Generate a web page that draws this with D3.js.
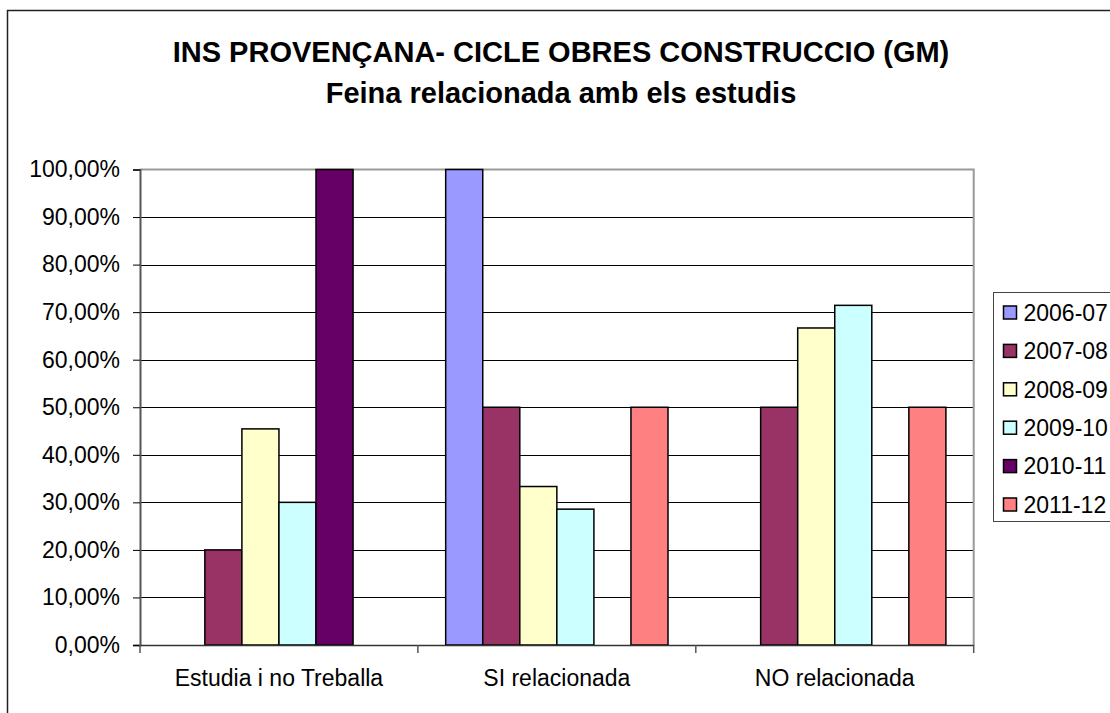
<!DOCTYPE html>
<html>
<head>
<meta charset="utf-8">
<script src="https://cdn.jsdelivr.net/npm/d3@7"></script>
<style>
  body { margin: 0; background: #fff; }
  text { font-family: "Liberation Sans", Arial, sans-serif; }
</style>
</head>
<body>
<div id="chart"></div>
<script>
// data (percent)
var categories = ["Estudia i no Treballa", "SI relacionada", "NO relacionada"];
var years = ["2006-07", "2007-08", "2008-09", "2009-10", "2010-11", "2011-12"];
var estudia = [0, 20, 45.45, 30, 100, 0];
var siRelacionada = [100, 50, 33.33, 28.57, 0, 50];
var noRelacionada = [0, 50, 66.67, 71.43, 0, 50];
var yTicks = [0, 10, 20, 30, 40, 50, 60, 70, 80, 90, 100];
var titleLines = ["INS PROVENÇANA- CICLE OBRES CONSTRUCCIO (GM)", "Feina relacionada amb els estudis"];

var colors = ["#9999FF", "#993366", "#FFFFCC", "#CCFFFF", "#660066", "#FF8080"];

var width = 1110,
    height = 713;

var plot = {left: 140, right: 973.7, top: 169.5, bottom: 645};

var rows = [estudia, siRelacionada, noRelacionada];
var data = categories.map(function(c, i) {
    return {cat: c, values: years.map(function(y, j) { return {year: y, value: rows[i][j]}; })};
});

var svg = d3.select("#chart").append("svg")
    .attr("width", width)
    .attr("height", height);

// outer frame (cut at right and bottom like the original)
svg.append("rect")
    .attr("x", 7.5).attr("y", 10.5)
    .attr("width", width).attr("height", height)
    .attr("fill", "none")
    .attr("stroke", "#222")
    .attr("stroke-width", 1.5);

// title
svg.selectAll(".title")
    .data(titleLines)
    .enter().append("text")
    .attr("class", "title")
    .attr("x", 561)
    .attr("y", function(d, i) { return 62 + i * 41; })
    .attr("text-anchor", "middle")
    .style("font-size", "29px")
    .style("font-weight", "bold")
    .text(function(d) { return d; });

var x0 = d3.scaleBand()
    .domain(categories)
    .range([plot.left, plot.right])
    .paddingInner(0.2)
    .paddingOuter(0.1);

var x1 = d3.scaleBand()
    .domain(years)
    .range([0, x0.bandwidth()]);

var y = d3.scaleLinear()
    .domain([0, 100])
    .range([plot.bottom, plot.top]);

var color = d3.scaleOrdinal().domain(years).range(colors);

// gridlines
svg.append("g")
    .selectAll("line")
    .data(yTicks.slice(1, -1))
    .enter().append("line")
    .attr("x1", plot.left).attr("x2", plot.right)
    .attr("y1", function(d) { return Math.round(y(d)) + 0.5; })
    .attr("y2", function(d) { return Math.round(y(d)) + 0.5; })
    .attr("stroke", "#000")
    .attr("stroke-width", 1);

// plot area border top / right
svg.append("path")
    .attr("d", "M" + plot.left + "," + plot.top + "H" + plot.right + "V" + plot.bottom)
    .attr("fill", "none")
    .attr("stroke", "#999").attr("stroke-width", 2);

// bars
var groups = svg.selectAll(".cat")
    .data(data)
    .enter().append("g")
    .attr("class", "cat")
    .attr("transform", function(d) { return "translate(" + x0(d.cat) + ",0)"; });

groups.selectAll("rect")
    .data(function(d) { return d.values.filter(function(v) { return v.value > 0; }); })
    .enter().append("rect")
    .attr("x", function(d) { return x1(d.year); })
    .attr("y", function(d) { return y(d.value); })
    .attr("width", x1.bandwidth())
    .attr("height", function(d) { return y(0) - y(d.value); })
    .attr("fill", function(d) { return color(d.year); })
    .attr("stroke", "#000")
    .attr("stroke-width", 1.5);

// y axis
var yAxis = svg.append("g")
    .attr("transform", "translate(" + plot.left + ",0)")
    .call(d3.axisLeft(y)
        .tickValues(yTicks)
        .tickSize(7)
        .tickPadding(13)
        .tickFormat(function(d) { return d3.format(".2f")(d).replace(".", ",") + "%"; }));
yAxis.select(".domain").attr("stroke", "#555").attr("stroke-width", 2);
yAxis.selectAll(".tick line").attr("stroke", "#000");
yAxis.selectAll("text")
    .style("font-size", "23px")
    .style("font-family", "'Liberation Sans', Arial, sans-serif")
    .attr("fill", "#000");

// x axis
var xAxis = svg.append("g")
    .attr("transform", "translate(0," + plot.bottom + ")")
    .call(d3.axisBottom(x0).tickSize(0).tickPadding(25));
xAxis.select(".domain").attr("stroke", "#333").attr("stroke-width", 1.5);
xAxis.selectAll("text")
    .style("font-size", "23px")
    .style("font-family", "'Liberation Sans', Arial, sans-serif")
    .attr("fill", "#000");

// category separators below the axis
var bounds = categories.map(function(c) { return x0(c) - x0.step() * 0.1; }).concat([plot.right]);
xAxis.selectAll(".sep")
    .data(bounds)
    .enter().append("line")
    .attr("class", "sep")
    .attr("x1", function(d) { return d; }).attr("x2", function(d) { return d; })
    .attr("y1", 0).attr("y2", 8)
    .attr("stroke", "#555").attr("stroke-width", 1.5);

// legend
var legend = svg.append("g").attr("transform", "translate(993.5,292.5)");
legend.append("rect")
    .attr("width", 130).attr("height", 229)
    .attr("fill", "#fff")
    .attr("stroke", "#444").attr("stroke-width", 1);

var item = legend.selectAll(".item")
    .data(years)
    .enter().append("g")
    .attr("class", "item")
    .attr("transform", function(d, i) { return "translate(0," + (20 + i * 38.4) + ")"; });

item.append("rect")
    .attr("x", 10).attr("y", -6.5)
    .attr("width", 13).attr("height", 13)
    .attr("fill", function(d) { return color(d); })
    .attr("stroke", "#000").attr("stroke-width", 1.5);

item.append("text")
    .attr("x", 30)
    .attr("dy", "0.36em")
    .style("font-size", "23px")
    .text(function(d) { return d; });
</script>
</body>
</html>
